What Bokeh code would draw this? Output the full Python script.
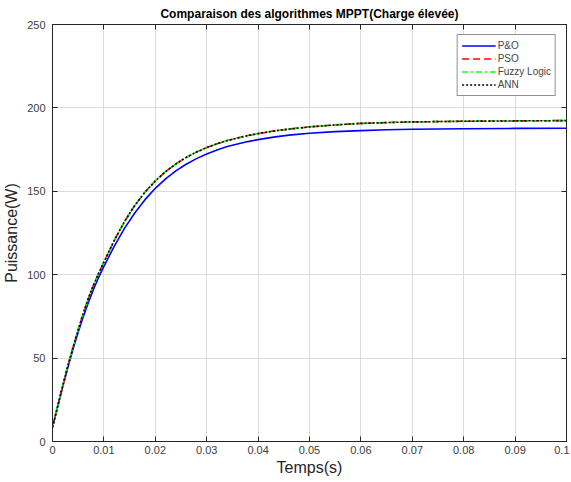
from bokeh.plotting import figure
from bokeh.models import FixedTicker, LinearAxis, Range1d, Legend, LegendItem
from bokeh.embed import file_html
from bokeh.resources import INLINE

# ---- data ----
t = [0, 0.001, 0.002, 0.003, 0.004, 0.005, 0.006, 0.007, 0.008, 0.009, 0.010,
     0.012, 0.014, 0.016, 0.018, 0.020, 0.022, 0.024, 0.026, 0.028, 0.030,
     0.032, 0.034, 0.036, 0.038, 0.040,
     0.043, 0.046, 0.050, 0.055, 0.060, 0.065, 0.070, 0.080, 0.090, 0.100]

p_po = [8.5, 21, 33, 44.5, 55.5, 65.5, 75, 83.5, 91.5, 98.5, 105,
        117, 127.8, 137, 145, 151.8, 157.4, 162.2, 166.2, 169.6, 172.4,
        174.8, 176.8, 178.4, 179.8, 181.0,
        182.5, 183.7, 184.8, 185.8, 186.4, 186.9, 187.2, 187.5, 187.7, 187.8]

p_pso = [8.5, 21, 33.5, 45.5, 56.5, 67, 77, 86, 94, 101, 107.5,
         120.5, 131.8, 141.5, 149.5, 156.2, 161.8, 166.4, 170.3, 173.5, 176.2,
         178.5, 180.4, 182.0, 183.4, 184.6,
         186.1, 187.3, 188.6, 189.8, 190.7, 191.2, 191.6, 192.0, 192.2, 192.4]

p_fuzzy = [8.5, 21, 33.5, 45.5, 56.5, 67, 77, 86, 94, 101, 107.5,
           120.5, 131.8, 141.5, 149.5, 156.2, 161.8, 166.4, 170.3, 173.5, 176.2,
           178.5, 180.4, 182.0, 183.4, 184.6,
           186.1, 187.3, 188.6, 189.8, 190.7, 191.2, 191.6, 192.0, 192.2, 192.4]

p_ann = [8.5, 21, 33.5, 45.5, 56.5, 67, 77, 86, 94, 101, 107.5,
         120.5, 131.8, 141.5, 149.5, 156.2, 161.8, 166.4, 170.3, 173.5, 176.2,
         178.5, 180.4, 182.0, 183.4, 184.6,
         186.1, 187.3, 188.6, 189.8, 190.7, 191.2, 191.6, 192.0, 192.2, 192.4]

x_ticks = [0, 0.01, 0.02, 0.03, 0.04, 0.05, 0.06, 0.07, 0.08, 0.09, 0.1]
x_tick_labels = ["0", "0.01", "0.02", "0.03", "0.04", "0.05", "0.06", "0.07", "0.08", "0.09", "0.1"]
y_ticks = [0, 50, 100, 150, 200, 250]

series_names = ["P&O", "PSO", "Fuzzy Logic", "ANN"]

FONT = "Liberation Sans"
AX = "#262626"

p = figure(frame_width=514, frame_height=417, output_backend="svg", toolbar_location=None,
           x_range=Range1d(0, 0.1), y_range=Range1d(0, 250),
           title="Comparaison des algorithmes MPPT(Charge élevée)",
           min_border_left=0, min_border_right=3, min_border_top=0, min_border_bottom=0)

p.title.text_font = FONT
p.title.text_font_size = "12px"
p.title.text_font_style = "bold"
p.title.text_color = "#000000"
p.title.align = "center"
p.title.standoff = 8

p.outline_line_color = AX
p.outline_line_width = 1

for ax in (p.xaxis[0], p.yaxis[0]):
    ax.axis_line_color = AX
    ax.major_tick_line_color = AX
    ax.major_tick_in = 5
    ax.major_tick_out = 0
    ax.minor_tick_line_color = None
    ax.major_label_text_font = FONT
    ax.major_label_text_font_size = "11px"
    ax.major_label_text_color = "#404040"
    ax.axis_label_text_font = FONT
    ax.axis_label_text_font_size = "16px"
    ax.axis_label_text_font_style = "normal"
    ax.axis_label_text_color = AX

p.xaxis[0].ticker = FixedTicker(ticks=x_ticks)
p.xaxis[0].major_label_overrides = dict(zip(x_ticks, x_tick_labels))
p.xaxis[0].major_label_standoff = 4
p.xaxis[0].axis_label = "Temps(s)"
p.xaxis[0].axis_label_standoff = 2

p.yaxis[0].ticker = FixedTicker(ticks=y_ticks)
p.yaxis[0].major_label_standoff = 7
p.yaxis[0].axis_label = "Puissance(W)"
p.yaxis[0].axis_label_standoff = 4

for side, tick in (("above", x_ticks), ("right", y_ticks)):
    a = LinearAxis(ticker=FixedTicker(ticks=tick))
    a.axis_line_color = AX
    a.major_tick_line_color = AX
    a.major_tick_in = 5
    a.major_tick_out = 0
    a.minor_tick_line_color = None
    a.major_label_overrides = {tk: "" for tk in tick}
    a.major_label_text_font_size = "1px"
    a.major_label_standoff = 0
    p.add_layout(a, side)

p.xgrid.ticker = FixedTicker(ticks=x_ticks)
p.ygrid.ticker = FixedTicker(ticks=y_ticks)
p.grid.grid_line_color = "#dcdcdc"
p.grid.grid_line_width = 1

r1 = p.line(t, p_po, line_color="#0000ff", line_width=1.6)
r2 = p.line(t, p_pso, line_color="#ff0000", line_width=1.6, line_dash="7 4")
r3 = p.line(t, p_fuzzy, line_color="#00ff00", line_width=1.6, line_dash="6 3 2 3")
r4 = p.line(t, p_ann, line_color="#000000", line_width=1.6, line_dash="2 2")

legend = Legend(items=[LegendItem(label=n, renderers=[r]) for n, r in zip(series_names, [r1, r2, r3, r4])],
                location="top_right")
legend.margin = 10
legend.padding = 4
legend.spacing = 0
legend.label_text_font = FONT
legend.label_text_font_size = "10px"
legend.label_standoff = 2
legend.label_height = 13
legend.glyph_height = 13
legend.glyph_width = 34
legend.border_line_color = "#262626"
legend.border_line_width = 1
legend.background_fill_color = "#ffffff"
p.add_layout(legend)

open("out.html", "w").write(file_html(p, INLINE))
